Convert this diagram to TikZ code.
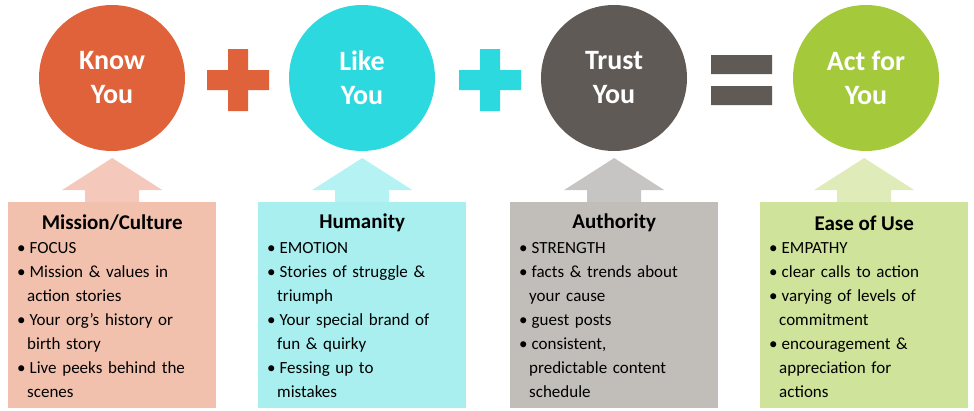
\documentclass[tikz,border=0pt]{standalone}
\usepackage{fontspec}
\setmainfont{Carlito}
\usetikzlibrary{positioning}
\definecolor{knowc}{HTML}{E0623A}
\definecolor{likec}{HTML}{2CD9DF}
\definecolor{trustc}{HTML}{5F5A55}
\definecolor{actc}{HTML}{A4C93B}
\definecolor{knowl}{HTML}{F2C1AE}
\definecolor{likel}{HTML}{A9EFEF}
\definecolor{trustl}{HTML}{C1BDB9}
\definecolor{actl}{HTML}{CFE39B}
\newcommand{\bp}[1]{\hangindent=10pt\hangafter=1\noindent•\hspace{4pt}#1\par}
\tikzset{
  goal/.style={circle, fill=#1, minimum size=146pt, inner sep=0pt, text=white,
    font=\fontsize{28}{34}\selectfont\bfseries, align=center},
  card/.style={fill=#1, minimum width=208pt, minimum height=206pt, anchor=north west, inner sep=0pt},
  cardtitle/.style={font=\fontsize{21}{24}\selectfont\bfseries, anchor=center},
  cardtext/.style={anchor=north west, text width=200pt, inner sep=0pt,
    font=\fontsize{17}{24}\selectfont}
}
\begin{document}
\begin{tikzpicture}[x=1pt,y=-1pt]
    \useasboundingbox (0,0) rectangle (974,410);

    % circles
    \node[goal=knowc] (know) at (112,78) {Know\\You};
    \node[goal=likec] (like) at (362,78) {Like\\You};
    \node[goal=trustc] (trust) at (614,78) {Trust\\You};
    \node[goal=actc] (act) at (866,78) {Act for\\You};

    % signs
    \fill[knowc] (207,70) rectangle (269,90) (228,49) rectangle (248,111);
    \fill[likec] (459,70) rectangle (521,90) (480,49) rectangle (500,111);
    \fill[trustc] (711,55) rectangle (772,74) (711,86) rectangle (772,105);

    % boxes
    \node[card=knowl] (mission) at (8,202) {};
    \node[card=likel] (humanity) at (258,202) {};
    \node[card=trustl] (authority) at (510,202) {};
    \node[card=actl] (ease) at (760,202) {};

    % arrows
    \foreach \b/\c in {mission/knowc, humanity/likec, authority/trustc, ease/actc}{
      \fill[\c!35] (\b.north) ++(-27,0) -- ++(0,-12) -- ++(-23,0)
        -- ++(50,-32) -- ++(50,32) -- ++(-23,0) -- ++(0,12) -- cycle;
    }

    % titles
    \node[cardtitle] at ([yshift=-21pt]mission.north) {Mission/Culture};
    \node[cardtitle] at ([yshift=-21pt]humanity.north) {Humanity};
    \node[cardtitle] at ([yshift=-21pt]authority.north) {Authority};
    \node[cardtitle] at ([yshift=-21pt]ease.north) {Ease of Use};

    % texts
    \node[cardtext] at ([xshift=9pt,yshift=-40pt]mission.north west) {\raggedright
      \bp{FOCUS}\bp{Mission \& values in\newline action stories}
      \bp{Your org’s history or\newline birth story}\bp{Live peeks behind the\newline scenes}};
    \node[cardtext] at ([xshift=9pt,yshift=-40pt]humanity.north west) {\raggedright
      \bp{EMOTION}\bp{Stories of struggle \&\newline triumph}
      \bp{Your special brand of\newline fun \& quirky}\bp{Fessing up to\newline mistakes}};
    \node[cardtext] at ([xshift=9pt,yshift=-40pt]authority.north west) {\raggedright
      \bp{STRENGTH}\bp{facts \& trends about\newline your cause}
      \bp{guest posts}\bp{consistent,\newline predictable content\newline schedule}};
    \node[cardtext] at ([xshift=9pt,yshift=-40pt]ease.north west) {\raggedright
      \bp{EMPATHY}\bp{clear calls to action}
      \bp{varying of levels of\newline commitment}\bp{encouragement \&\newline appreciation for\newline actions}};
\end{tikzpicture}
\end{document}
